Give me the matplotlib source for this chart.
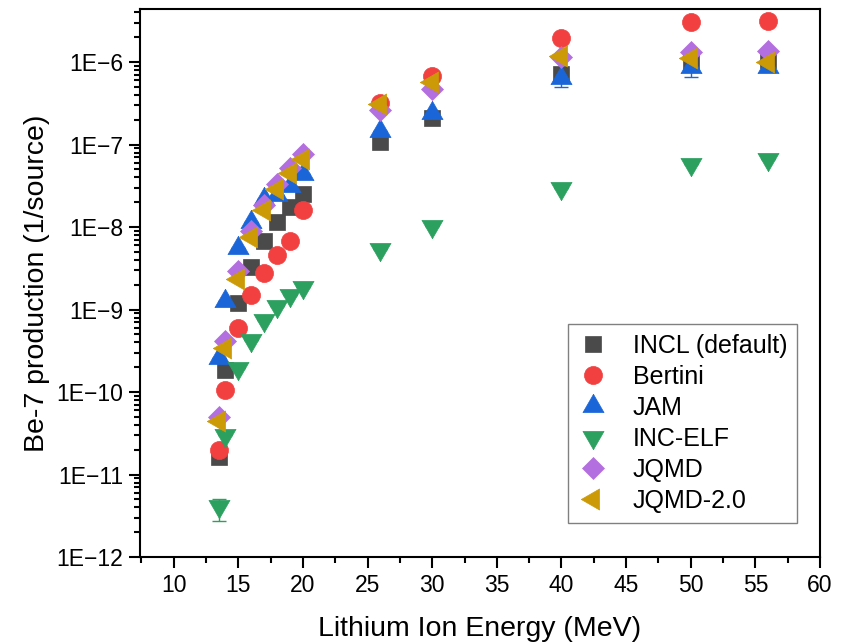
import numpy as np
import matplotlib
matplotlib.use('Agg')
import matplotlib.pyplot as plt
from matplotlib.ticker import FixedLocator, FuncFormatter, LogLocator, NullFormatter

plt.rcParams['font.family'] = ['Liberation Sans', 'DejaVu Sans']

# lithium ion energy (MeV)
energy = [13.5, 14, 15, 16, 17, 18, 19, 20, 26, 30, 40, 50, 56]

# Be-7 production per source particle, one list per model
incl = [1.63e-11, 1.86e-10, 1.2e-9, 3.27e-9, 6.7e-9, 1.14e-8, 1.73e-8, 2.5e-8,
        1.07e-7, 2.1e-7, 7.2e-7, 1.01e-6, 1.06e-6]
bertini = [1.96e-11, 1.07e-10, 5.9e-10, 1.52e-9, 2.79e-9, 4.52e-9, 6.84e-9, 1.6e-8,
           3.18e-7, 6.78e-7, 1.96e-6, 3.06e-6, 3.15e-6]
jam = [2.6e-10, 1.27e-9, 5.5e-9, 1.15e-8, 2.19e-8, 2.43e-8, 3.18e-8, 4.39e-8,
       1.46e-7, 2.43e-7, 6.47e-7, 8.7e-7, 8.8e-7]
inc_elf = [4.16e-12, 3.03e-11, 1.96e-10, 4.24e-10, 7.4e-10, 1.1e-9, 1.5e-9, 1.86e-9,
           5.4e-9, 1.03e-8, 2.98e-8, 5.85e-8, 6.73e-8]
jqmd = [4.96e-11, 4.1e-10, 2.97e-9, 9.0e-9, 1.85e-8, 3.3e-8, 5.15e-8, 7.6e-8,
        2.64e-7, 4.69e-7, 1.14e-6, 1.33e-6, 1.36e-6]
jqmd2 = [4.4e-11, 3.39e-10, 2.36e-9, 7.5e-9, 1.6e-8, 2.87e-8, 4.56e-8, 6.6e-8,
         3.1e-7, 5.8e-7, 1.18e-6, 1.11e-6, 1.01e-6]

# visible statistical errors (lower, upper)
jam_err = [[0]*10 + [1.5e-7, 2.1e-7, 0], [0]*13]
inc_elf_err = [[1.4e-12] + [0]*12, [0.9e-12] + [0]*12]

labels = ['INCL (default)', 'Bertini', 'JAM', 'INC-ELF', 'JQMD', 'JQMD-2.0']
colors = ['#4a4a4a', '#f23f3f', '#1a66d9', '#2ba05f', '#b36ee0', '#cc9a06']

# equilateral triangles centred on their centroid
tri_up = [(0, 0.5774), (-0.5, -0.2887), (0.5, -0.2887), (0, 0.5774)]
tri_down = [(x, -y) for x, y in tri_up]
tri_left = [(-y, x) for x, y in tri_up]

series = [
    (incl, 's', 11.5, None),
    (bertini, 'o', 13, None),
    (jam, tri_up, 17.5, jam_err),
    (inc_elf, tri_down, 17.5, inc_elf_err),
    (jqmd, 'D', 11, None),
    (jqmd2, tri_left, 17.5, None),
]

fig = plt.figure(figsize=(8.46, 6.42), dpi=100)
ax = fig.add_axes([0.1655, 0.1324, 0.8038, 0.8536])

for (vals, mk, ms, err), lab, col in zip(series, labels, colors):
    if err is not None:
        ax.errorbar(energy, vals, yerr=err, fmt='none', ecolor=col, elinewidth=1,
                    capsize=5, capthick=1, zorder=2)
    ax.plot(energy, vals, linestyle='none', marker=mk, markersize=ms, color=col,
            markeredgecolor=col, markeredgewidth=0.5, label=lab, zorder=3)

ax.set_yscale('log')
ax.set_xlim(7.4, 60)
ax.set_ylim(1e-12, 4.4e-6)

ax.xaxis.set_major_locator(FixedLocator(np.arange(10, 61, 5)))
ax.xaxis.set_minor_locator(FixedLocator(np.arange(7.5, 60, 5)))
ax.yaxis.set_major_locator(FixedLocator([10.0**k for k in range(-12, -5)]))
ax.yaxis.set_minor_locator(LogLocator(base=10, subs=np.arange(2, 10)))
ax.yaxis.set_major_formatter(FuncFormatter(
    lambda v, p: '1E' + str(int(round(np.log10(v)))).replace('-', '\u2212')))
ax.yaxis.set_minor_formatter(NullFormatter())

ax.tick_params(which='both', direction='out', top=False, right=False, width=1.5)
ax.tick_params(which='major', length=8, labelsize=16.5, pad=4)
ax.tick_params(which='minor', length=4.5)
for s in ax.spines.values():
    s.set_linewidth(1.5)

ax.set_xlabel('Lithium Ion Energy (MeV)', fontsize=20.5, labelpad=14)
ax.set_ylabel('Be-7 production (1/source)', fontsize=20.5, labelpad=5)

leg = ax.legend(loc='upper right', bbox_to_anchor=(0.9668, 0.426), fontsize=18,
                numpoints=1, frameon=True, fancybox=False, framealpha=1,
                edgecolor='#808080', handlelength=1.2, handletextpad=1.0,
                labelspacing=0.28, borderpad=0.4, borderaxespad=0)
leg.get_frame().set_linewidth(1.0)

fig.savefig('out.png', dpi=100)
